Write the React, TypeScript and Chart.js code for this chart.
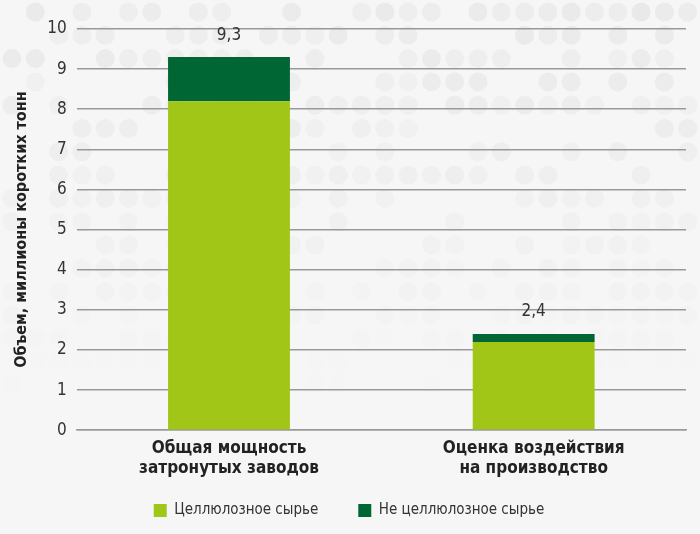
import { useEffect, useRef } from "react";
import { Chart, registerables } from "chart.js";

const categories = [
  ["Общая мощность", "затронутых заводов"],
  ["Оценка воздействия", "на производство"],
];
const cellulose = [8.2, 2.2];
const nonCellulose = [1.1, 0.2];
const seriesNames = ["Целлюлозное сырье", "Не целлюлозное сырье"];
const axisTitle = "Объем, миллионы коротких тонн";

const FONT = "'Liberation Sans Narrow', 'DejaVu Sans Condensed', 'Roboto', sans-serif";

// decorative dotted background, fading toward the bottom
const backgroundDots = {
  id: "backgroundDots",
  beforeDraw(chart: Chart) {
    const { ctx, width } = chart;
    ctx.save();
    ctx.fillStyle = "#f6f6f6";
    ctx.fillRect(0, 0, width, chart.height);
    const step = 23.3;
    for (let j = 0; j * step < 420; j++) {
      for (let i = 0; i * step < width + step; i++) {
        const h = Math.abs(Math.sin(i * 12.9898 + j * 78.233) * 43758.5453) % 1;
        if (h < 0.4) continue;
        const cy = 12 + j * step;
        const fade = Math.max(0, 1 - cy / 400);
        const a = (0.3 + 0.7 * h) * fade;
        ctx.fillStyle = `rgba(200,200,200,${(a * 0.28).toFixed(3)})`;
        ctx.beginPath();
        ctx.arc(12 + i * step, cy, 9.5, 0, Math.PI * 2);
        ctx.fill();
      }
    }
    ctx.restore();
  },
};

// keep the wide gap between legend items but trim the legend's height
const tightLegend = {
  id: "tightLegend",
  beforeLayout(chart: Chart) {
    const lg: any = (chart as any).legend;
    if (lg && !lg.__tight) {
      const fit = lg.fit;
      lg.fit = function () {
        fit.call(this);
        this.height -= 16;
      };
      lg.__tight = true;
    }
  },
  afterLayout(chart: Chart) {
    const lg: any = (chart as any).legend;
    if (lg) {
      lg.top -= 16;
      lg.height += 16;
    }
  },
};

const totalLabels = {
  id: "totalLabels",
  afterDatasetsDraw(chart: Chart) {
    const { ctx } = chart;
    const meta = chart.getDatasetMeta(1);
    const y = chart.scales.y;
    ctx.save();
    ctx.font = `17px ${FONT}`;
    ctx.fillStyle = "#333333";
    ctx.textAlign = "center";
    ctx.textBaseline = "middle";
    meta.data.forEach((bar: any, i: number) => {
      const total = cellulose[i] + nonCellulose[i];
      const top = y.getPixelForValue(total);
      ctx.fillText(total.toFixed(1).replace(".", ","), bar.x, top - 22);
    });
    ctx.restore();
  },
};

export default function App() {
  const ref = useRef<HTMLCanvasElement>(null);

  useEffect(() => {
    document.body.style.margin = "0";
    Chart.register(...registerables);
    const chart = new Chart(ref.current!, {
      type: "bar",
      data: {
        labels: categories,
        datasets: [
          {
            label: seriesNames[0],
            data: cellulose,
            backgroundColor: "#a2c617",
            barPercentage: 0.4,
            categoryPercentage: 1,
          },
          {
            label: seriesNames[1],
            data: nonCellulose,
            backgroundColor: "#006633",
            barPercentage: 0.4,
            categoryPercentage: 1,
          },
        ],
      },
      options: {
        responsive: false,
        animation: false,
        layout: { padding: { top: 29, right: 14, left: 12, bottom: 6 } },
        scales: {
          x: {
            stacked: true,
            grid: { display: false },
            border: { color: "#999999", width: 1.5 },
            ticks: {
              color: "#222222",
              font: { family: FONT, size: 17, weight: "bold" },
              padding: 0,
            },
          },
          y: {
            stacked: true,
            min: 0,
            max: 10,
            ticks: {
              stepSize: 1,
              color: "#333333",
              font: { family: FONT, size: 17 },
              padding: 10,
            },
            grid: { color: "#999999", lineWidth: 1.5, drawTicks: false },
            border: { display: false },
            title: {
              display: true,
              text: axisTitle,
              color: "#222222",
              font: { family: FONT, size: 16, weight: "bold" },
              padding: { top: 0, bottom: 6 },
            },
          },
        },
        plugins: {
          legend: {
            position: "bottom",
            labels: {
              boxWidth: 13,
              boxHeight: 13,
              color: "#333333",
              font: { family: FONT, size: 15 },
              padding: 40,
            },
          },
          tooltip: { enabled: false },
        },
      },
      plugins: [backgroundDots, tightLegend, totalLabels],
    });
    return () => chart.destroy();
  }, []);

  return (
    <div style={{ width: 700, height: 534 }}>
      <canvas ref={ref} width={700} height={534} />
    </div>
  );
}
